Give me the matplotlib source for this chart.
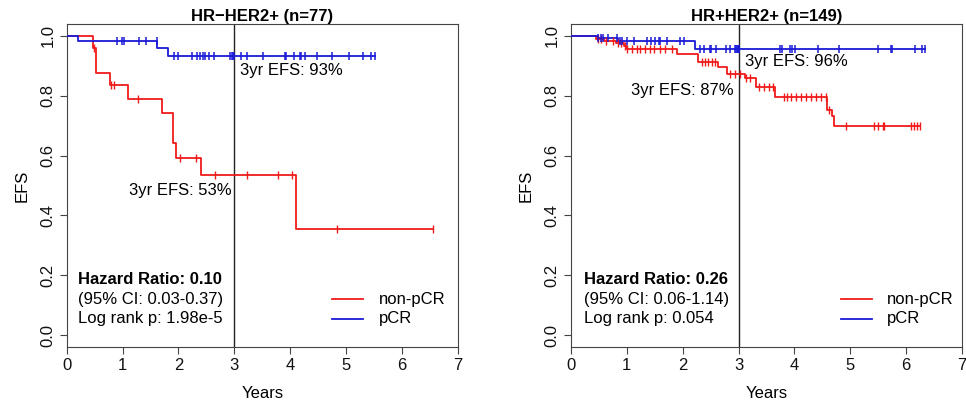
import numpy as np
import matplotlib
matplotlib.use("Agg")
import matplotlib.pyplot as plt

plt.rcParams['font.family'] = ['Liberation Sans', 'DejaVu Sans']

# ---------------- data: HR-HER2+ ----------------
l_title = "HR\u2212HER2+ (n=77)"
l_npcr_t = [0, 0.48, 0.52, 0.78, 1.09, 1.70, 1.91, 1.96, 2.40, 4.10, 6.56]
l_npcr_s = [1.0, 0.96, 0.877, 0.836, 0.79, 0.741, 0.642, 0.591, 0.534, 0.356, 0.356]
l_npcr_c = [0.49, 0.80, 0.85, 1.27, 2.03, 2.32, 2.66, 3.23, 3.79, 4.03, 4.83, 6.56]
l_pcr_t = [0, 0.21, 1.62, 1.82, 5.51]
l_pcr_s = [1.0, 0.982, 0.958, 0.933, 0.933]
l_pcr_c = [0.90, 0.99, 1.03, 1.30, 1.42, 1.61, 1.92, 2.00, 2.24, 2.33, 2.39, 2.44,
           2.48, 2.54, 2.64, 2.93, 2.95, 2.97, 2.99, 3.12, 3.23, 3.51, 3.91, 3.93,
           4.06, 4.17, 4.19, 4.27, 4.48, 4.75, 5.05, 5.31, 5.44, 5.51]
l_ann_pcr = "3yr EFS: 93%"
l_ann_npcr = "3yr EFS: 53%"
l_stats = ["Hazard Ratio: 0.10", "(95% CI: 0.03-0.37)", "Log rank p: 1.98e-5"]

# ---------------- data: HR+HER2+ ----------------
r_title = "HR+HER2+ (n=149)"
r_npcr_t = [0, 0.45, 0.60, 0.80, 0.95, 1.00, 1.90, 2.28, 2.64, 2.79, 3.12, 3.31,
            3.66, 4.59, 4.67, 4.70, 6.25]
r_npcr_s = [1.0, 0.99, 0.983, 0.975, 0.965, 0.955, 0.94, 0.911, 0.895, 0.874,
            0.858, 0.828, 0.797, 0.751, 0.733, 0.70, 0.70]
r_npcr_c = [0.48, 0.54, 0.63, 0.75, 0.84, 0.90, 0.96, 1.00, 1.09, 1.18, 1.24,
            1.33, 1.42, 1.48, 1.60, 1.69, 1.81, 2.34, 2.40, 2.46, 2.52, 2.58,
            2.85, 2.94, 3.03, 3.14, 3.21, 3.37, 3.46, 3.55, 3.61, 3.81, 3.87,
            3.93, 4.02, 4.11, 4.20, 4.29, 4.38, 4.47, 4.56, 4.62, 4.92, 5.43,
            5.49, 5.58, 5.61, 6.08, 6.14, 6.20, 6.25]
r_pcr_t = [0, 0.49, 0.85, 2.22, 6.34]
r_pcr_s = [1.0, 0.991, 0.981, 0.955, 0.955]
r_pcr_c = [0.49, 0.54, 0.58, 0.67, 0.82, 0.87, 0.91, 1.00, 1.13, 1.36, 1.43,
           1.51, 1.57, 1.60, 1.72, 1.96, 2.03, 2.31, 2.39, 2.48, 2.50, 2.60,
           2.78, 2.85, 2.94, 2.96, 2.97, 2.99, 3.00, 3.01, 3.74, 3.77, 3.92,
           3.95, 4.01, 4.43, 4.79, 5.50, 5.72, 5.74, 6.16, 6.28, 6.34]
r_ann_pcr = "3yr EFS: 96%"
r_ann_npcr = "3yr EFS: 87%"
r_stats = ["Hazard Ratio: 0.26", "(95% CI: 0.06-1.14)", "Log rank p: 0.054"]

legend_labels = ["non-pCR", "pCR"]
x_ticks = [0, 1, 2, 3, 4, 5, 6, 7]
y_ticks = [0.0, 0.2, 0.4, 0.6, 0.8, 1.0]

RED = "#f01a1a"
BLUE = "#1a1ad8"
AXC = "#444444"
FS = 12


def step_val(t, s, x):
    t = np.asarray(t); s = np.asarray(s)
    idx = np.searchsorted(t, x, side="right") - 1
    return s[np.clip(idx, 0, len(s) - 1)]


fig = plt.figure(figsize=(9.66, 4.04), dpi=100)


def panel(left, title, nt, ns, nc, pt, ps, pc, ann_p, ann_n, ann_p_xy, ann_n_xy,
          stats, stats_x, leg_x):
    ax = fig.add_axes([left, 0.141, 0.405, 0.80])
    ax.set_xlim(0, 7)
    ax.set_ylim(-0.04, 1.04)
    ax.step(nt, ns, where="post", color=RED, lw=1.3, zorder=3)
    ax.step(pt, ps, where="post", color=BLUE, lw=1.3, zorder=3)
    ax.plot(nc, step_val(nt, ns, nc), ls="none", marker="|", ms=6, mew=1.0,
            color=RED, zorder=3)
    ax.plot(pc, step_val(pt, ps, pc), ls="none", marker="|", ms=6, mew=1.1,
            color=BLUE, zorder=4)
    ax.axvline(3, color="#222222", lw=1.0, zorder=2)
    ax.text(ann_p_xy[0], ann_p_xy[1], ann_p, ha="left", va="center", fontsize=FS)
    ax.text(ann_n_xy[0], ann_n_xy[1], ann_n, ha="right", va="center", fontsize=FS)
    ys = [0.187, 0.118, 0.054]
    for i, (txt, y) in enumerate(zip(stats, ys)):
        ax.text(stats_x, y, txt, ha="left", va="center", fontsize=FS,
                fontweight="bold" if i == 0 else "normal")
    for lab, col, y in zip(legend_labels, [RED, BLUE], [0.12, 0.054]):
        ax.plot([leg_x, leg_x + 0.56], [y, y], color=col, lw=1.3)
        ax.text(leg_x + 0.83, y, lab, ha="left", va="center", fontsize=FS)
    ax.set_xticks(x_ticks)
    ax.set_yticks(y_ticks)
    ax.set_yticklabels([f"{v:.1f}" for v in y_ticks], rotation=90, va="center")
    ax.tick_params(axis="both", colors=AXC, labelcolor="#111111", labelsize=FS,
                   length=5, width=0.8)
    ax.tick_params(axis="x", pad=3)
    ax.tick_params(axis="y", pad=3)
    for sp in ax.spines.values():
        sp.set_color(AXC)
        sp.set_linewidth(0.8)
    ax.set_xlabel("Years", fontsize=FS, labelpad=9)
    ax.set_ylabel("EFS", fontsize=FS, labelpad=8)
    ax.set_title(title, fontsize=FS, fontweight="bold", pad=2)
    return ax


panel(0.069, l_title, l_npcr_t, l_npcr_s, l_npcr_c, l_pcr_t, l_pcr_s, l_pcr_c,
      l_ann_pcr, l_ann_npcr, (3.1, 0.885), (2.95, 0.482),
      l_stats, 0.2, 4.75)
panel(0.591, r_title, r_npcr_t, r_npcr_s, r_npcr_c, r_pcr_t, r_pcr_s, r_pcr_c,
      r_ann_pcr, r_ann_npcr, (3.12, 0.913), (2.91, 0.818),
      r_stats, 0.23, 4.83)

fig.savefig("out.png", dpi=100)
